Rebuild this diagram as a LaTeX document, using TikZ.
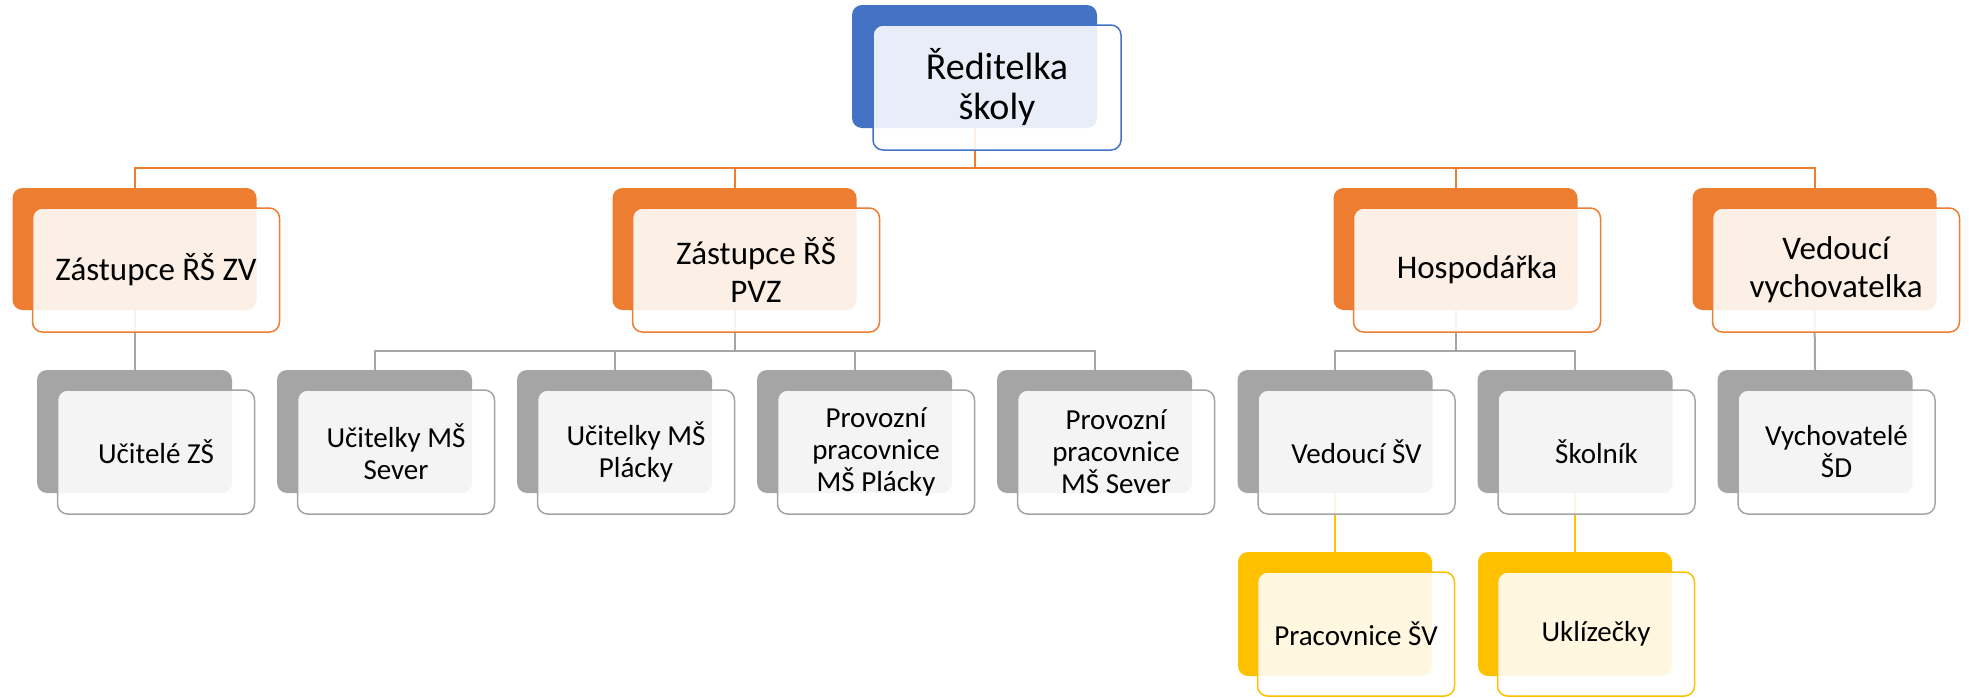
\documentclass[tikz,border=0pt]{standalone}
\usepackage{fontspec}
\setmainfont{Carlito}
\usepackage{xcolor}
\usepackage{tikz}
\usetikzlibrary{positioning}

\definecolor{acBlue}{HTML}{4472C4}
\definecolor{acOrange}{HTML}{ED7D31}
\definecolor{acGray}{HTML}{A5A5A5}
\definecolor{acGold}{HTML}{FFC000}

\pgfdeclarelayer{bg}
\pgfsetlayers{bg,main}

\tikzset{
  back/.style={rounded corners=10pt,inner sep=0pt},
  front/.style={rounded corners=10pt,fill=white,fill opacity=0.88,text opacity=1,
    line width=1.5pt,align=center,inner sep=2pt},
  rsback/.style={back,fill=acBlue,minimum width=245pt,minimum height=123pt},
  rsfront/.style={front,draw=acBlue,minimum width=248pt,minimum height=125pt,
    font=\fontsize{38}{40}\selectfont},
  lonback/.style={back,fill=acOrange,minimum width=244pt,minimum height=122pt},
  lonfront/.style={front,draw=acOrange,minimum width=247pt,minimum height=124pt,
    font=\fontsize{33}{38}\selectfont},
  ltwback/.style={back,fill=acGray,minimum width=195pt,minimum height=123pt},
  ltwfront/.style={front,draw=acGray,minimum width=197pt,minimum height=124pt,
    font=\fontsize{29}{32}\selectfont},
  lthback/.style={back,fill=acGold,minimum width=194pt,minimum height=124pt},
  lthfront/.style={front,draw=acGold,minimum width=197pt,minimum height=124pt,
    font=\fontsize{29}{32}\selectfont},
  conO/.style={draw=acOrange,line width=2pt},
  conG/.style={draw=acGray,line width=2pt},
  conY/.style={draw=acGold,line width=2pt}
}

\begin{document}
\begin{tikzpicture}[x=1pt,y=-1pt]
\useasboundingbox (0,0) rectangle (1969,697);

% reditelka
\node[rsback] (rs) at (974.5,66.5) {};
\node[rsfront] (rsF) at ([shift={(22.5,21)}]rs.center) {Ředitelka\\školy};

% zastupci, hospodarka, vedouci
\node[lonback] (zv) at (134.5,249) {};
\node[lonback] (pvz) at (734.5,249) {};
\node[lonback] (hosp) at (1455.5,249) {};
\node[lonback] (vedv) at (1814.5,249) {};
\node[lonfront] (zvF) at ([shift={(21.5,21)}]zv.center) {Zástupce ŘŠ ZV};
\node[lonfront] (pvzF) at ([shift={(21.5,21)}]pvz.center) {Zástupce ŘŠ\\PVZ};
\node[lonfront] (hospF) at ([shift={(21.5,21)}]hosp.center) {Hospodářka};
\node[lonfront] (vedvF) at ([shift={(21.5,21)}]vedv.center) {Vedoucí\\vychovatelka};

% druha rada
\node[ltwback] (uzs) at (134.5,431.5) {};
\node[ltwback] (ums) at (374.5,431.5) {};
\node[ltwback] (ump) at (614.5,431.5) {};
\node[ltwback] (ppp) at (854.5,431.5) {};
\node[ltwback] (pps) at (1094.5,431.5) {};
\node[ltwback] (vsv) at (1335,431.5) {};
\node[ltwback] (skol) at (1575,431.5) {};
\node[ltwback] (vsd) at (1815,431.5) {};
\node[ltwfront] (uzsF) at ([shift={(21.5,20.5)}]uzs.center) {Učitelé ZŠ};
\node[ltwfront] (umsF) at ([shift={(21.5,20.5)}]ums.center) {Učitelky MŠ\\Sever};
\node[ltwfront] (umpF) at ([shift={(21.5,20.5)}]ump.center) {Učitelky MŠ\\Plácky};
\node[ltwfront] (pppF) at ([shift={(21.5,20.5)}]ppp.center) {Provozní\\pracovnice\\MŠ Plácky};
\node[ltwfront] (ppsF) at ([shift={(21.5,20.5)}]pps.center) {Provozní\\pracovnice\\MŠ Sever};
\node[ltwfront] (vsvF) at ([shift={(21.5,20.5)}]vsv.center) {Vedoucí ŠV};
\node[ltwfront] (skolF) at ([shift={(21.5,20.5)}]skol.center) {Školník};
\node[ltwfront] (vsdF) at ([shift={(21.5,20.5)}]vsd.center) {Vychovatelé\\ŠD};

% treti rada
\node[lthback] (psv) at (1335,614) {};
\node[lthback] (ukl) at (1575,614) {};
\node[lthfront] (psvF) at ([shift={(21,20)}]psv.center) {Pracovnice ŠV};
\node[lthfront] (uklF) at ([shift={(21,20)}]ukl.center) {Uklízečky};

\begin{pgfonlayer}{bg}
\draw[conO] (rs.south) -- ++(0,40) coordinate (rsbar);
\draw[conO] (rsbar) -| (zv.north);
\draw[conO] (rsbar) -| (pvz.north);
\draw[conO] (rsbar) -| (hosp.north);
\draw[conO] (rsbar) -| (vedv.north);

\draw[conG] (zv.south) -- (uzs.north);
\draw[conG] (pvz.south) -- ++(0,41) coordinate (pvzbar);
\draw[conG] (pvzbar) -| (ums.north);
\draw[conG] (pvzbar) -| (ump.north);
\draw[conG] (pvzbar) -| (ppp.north);
\draw[conG] (pvzbar) -| (pps.north);
\draw[conG] (hosp.south) -- ++(0,41) coordinate (hospbar);
\draw[conG] (hospbar) -| (vsv.north);
\draw[conG] (hospbar) -| (skol.north);
\draw[conG] (vedv.south) -- (vsd.north);

\draw[conY] (vsv.south) -- (psv.north);
\draw[conY] (skol.south) -- (ukl.north);
\end{pgfonlayer}
\end{tikzpicture}
\end{document}
